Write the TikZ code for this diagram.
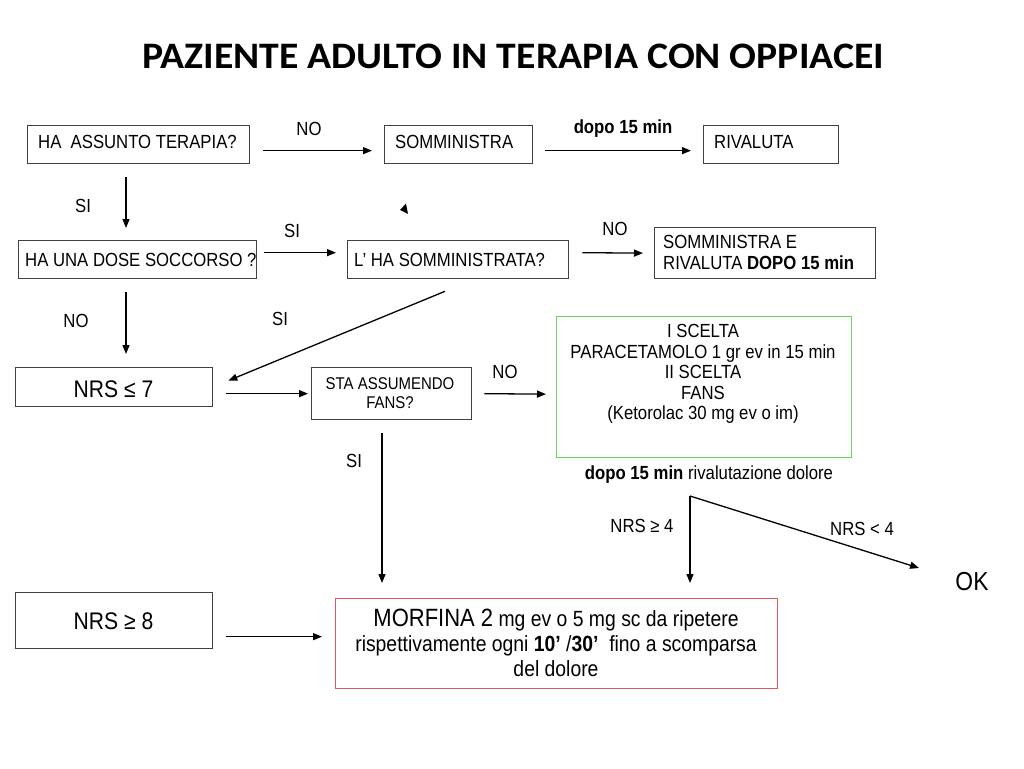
\documentclass[tikz,border=0pt]{standalone}
\usepackage{fontspec}
\usepackage{graphicx}
\setmainfont{Liberation Sans}[FakeStretch=0.88]
\newfontfamily\titlefont{Carlito}
\usetikzlibrary{arrows.meta,calc}
\definecolor{boxgray}{RGB}{64,64,64}
\definecolor{boxgreen}{RGB}{110,210,95}
\definecolor{boxred}{RGB}{225,85,95}
\newcommand\fsA{\fontsize{19}{20.4}\selectfont}
\newcommand\fsS{\fontsize{17}{19}\selectfont}
\newcommand\fsN{\fontsize{24}{26}\selectfont}
\newcommand\fsM{\fontsize{22}{25}\selectfont}
\begin{document}
\begin{tikzpicture}[x=1pt,y=-1pt,
  box/.style={draw=boxgray,line width=1.3pt,inner sep=0pt,anchor=north west},
  arr/.style={-{Triangle[length=9pt,width=7pt]},line width=1.3pt,black},
  txt/.style={inner sep=0pt,font=\fsA},
  lbl/.style={inner sep=0pt,font=\fsA,anchor=base}]
\fill[white] (0,0) rectangle (1024,768);
\useasboundingbox (0,0) rectangle (1024,768);

% title
\node[inner sep=0pt,anchor=north west] (title) at (142,44)
  {\resizebox{742pt}{24.5pt}{\titlefont\bfseries PAZIENTE ADULTO IN TERAPIA CON OPPIACEI}};

% boxes
\node[box,minimum width=222pt,minimum height=38pt] (A) at (27,125) {};
\node[box,minimum width=148pt,minimum height=38pt] (B) at (384,125) {};
\node[box,minimum width=135pt,minimum height=38pt] (C) at (703,125) {};
\node[box,minimum width=238pt,minimum height=38pt] (D) at (18,240) {};
\node[box,minimum width=221pt,minimum height=38pt] (E) at (347,240) {};
\node[box,minimum width=221pt,minimum height=51pt] (F) at (654,227) {};
\node[box,minimum width=197pt,minimum height=39pt] (G) at (15,367) {};
\node[box,minimum width=160pt,minimum height=52pt] (H) at (311,367) {};
\node[box,draw=boxgreen,minimum width=295pt,minimum height=141pt] (I) at (556,316) {};
\node[box,minimum width=197pt,minimum height=56pt] (J) at (15,592) {};
\node[box,draw=boxred,minimum width=442pt,minimum height=90pt] (K) at (335,598) {};

% box texts
\node[txt,anchor=base west] (tA) at (38,148) {HA\ \ ASSUNTO TERAPIA?};
\node[txt,anchor=base west] (tB) at (395,148) {SOMMINISTRA};
\node[txt,anchor=base west] (tC) at (714,148) {RIVALUTA};
\node[txt,anchor=base west] (tD) at (25,266) {HA UNA DOSE SOCCORSO ?};
\node[txt,anchor=base west] (tE) at (354,266) {L’ HA SOMMINISTRATA?};
\node[txt,anchor=north west,align=left] (tF) at (663,235.4) {SOMMINISTRA E\\RIVALUTA \textbf{DOPO 15 min}};
\node[txt,font=\fsN,anchor=base] (tG) at (113.5,397) {NRS ≤ 7};
\node[txt,font=\fsS,anchor=north,align=center] (tH) at (390,377) {STA ASSUMENDO\\FANS?};
\node[txt,anchor=north,align=center] (tI) at (703,324.4)
  {I SCELTA\\PARACETAMOLO 1 gr ev in 15 min\\II SCELTA\\FANS\\(Ketorolac 30 mg ev o im)};
\node[txt,font=\fsN,anchor=base] (tJ) at (113.5,629) {NRS ≥ 8};
\node[txt,font=\fsM,anchor=north,align=center] (tK) at (556,609)
  {{\fontsize{25}{25}\selectfont MORFINA 2} mg ev o 5 mg sc da ripetere\\
   rispettivamente ogni \textbf{10’} /\textbf{30’}\ \ fino a scomparsa\\del dolore};
\node[lbl] (riv) at (709,479) {\textbf{dopo 15 min} rivalutazione dolore};
\node[lbl,font=\fontsize{26}{26}\selectfont] (ok) at (972,590) {OK};

% connector labels
\node[lbl] (lNO1) at (309,135) {NO};
\node[lbl] (lDopo) at (623,133) {\textbf{dopo 15 min}};
\node[lbl] (lSI1) at (83,212) {SI};
\node[lbl] (lSI2) at (292,237) {SI};
\node[lbl] (lNO2) at (615,235) {NO};
\node[lbl] (lNO3) at (76,327) {NO};
\node[lbl] (lSI3) at (280,325) {SI};
\node[lbl] (lNO4) at (505,378) {NO};
\node[lbl] (lSI4) at (354,467) {SI};
\node[lbl] (lge4) at (642,532) {NRS ≥ 4};
\node[lbl] (llt4) at (862,535) {NRS < 4};

% coordinates
\coordinate (split) at (690,496);
\coordinate (okend) at (919,568);

% connectors
\draw[arr] ([shift={(13,6)}]A.east) -- ([shift={(-12,6)}]B.west);
\draw[arr] ([shift={(12,6)}]B.east) -- ([shift={(-12,6)}]C.west);
\draw[arr] ([shift={(99,13)}]A.south west) -- ([shift={(108,-12)}]D.north west);
\draw[arr] ([shift={(7,-7)}]D.east) -- ([shift={(-11,-7)}]E.west);
\draw[arr] ([shift={(13,-7)}]E.east) -- ([shift={(-11,0)}]F.west);
\draw[arr] ([shift={(108,13)}]D.south west) -- ([shift={(111,-13)}]G.north west);
\draw[arr] ([shift={(98,12)}]E.south west) -- ([shift={(15,-6.5)}]G.east);
\draw[arr] ([shift={(13,6.5)}]G.east) -- ([shift={(-3,0)}]H.west);
\draw[arr] ([shift={(12,0)}]H.east) -- ([shift={(-10,7)}]I.west);
\draw[arr] ([shift={(71,13)}]H.south west) -- ([shift={(47,-15)}]K.north west);
\draw[arr] ([shift={(13,16)}]J.east) -- ([shift={(-13,-7)}]K.west);
\draw[arr] (split) -- ([yshift=15pt]split |- K.north);
\draw[arr] (split) -- (okend);

% stray arrowhead
\fill (400,210) -- (406,203.5) -- (408,214) -- cycle;
\end{tikzpicture}
\end{document}
